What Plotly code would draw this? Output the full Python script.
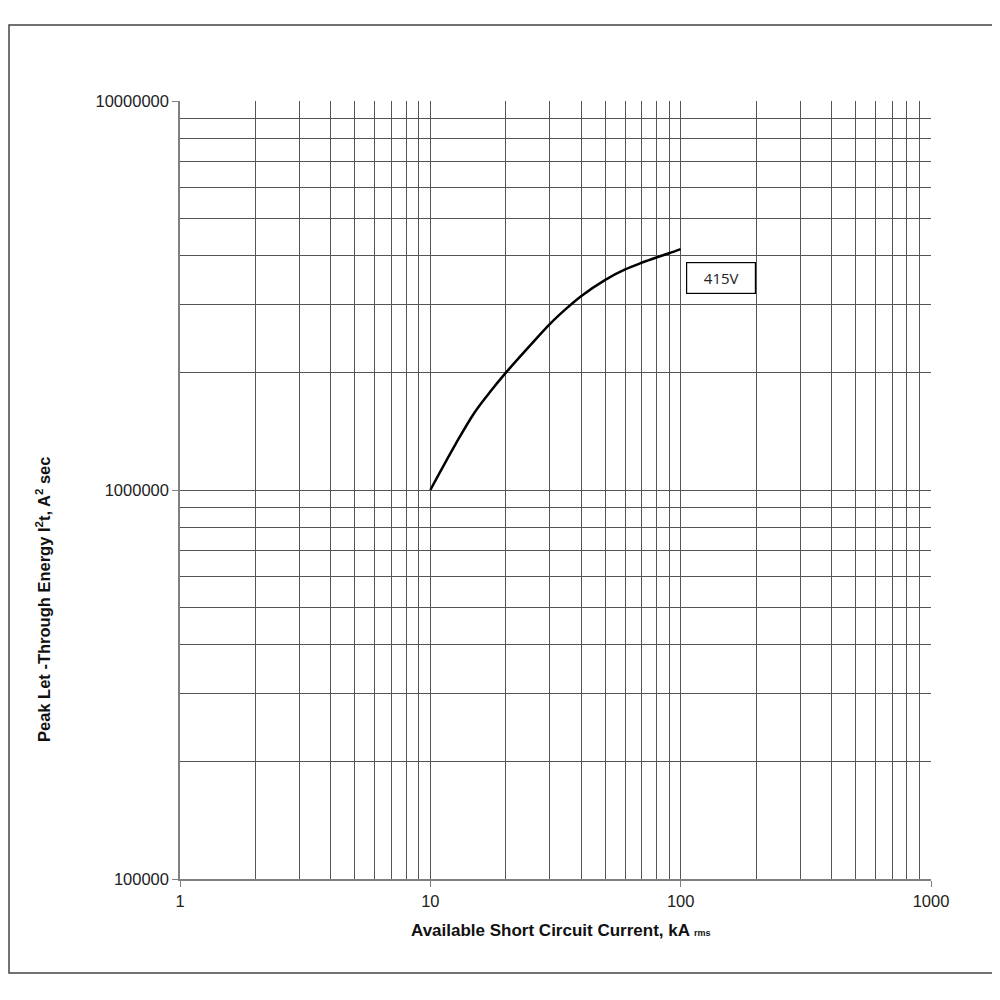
import plotly.graph_objects as go

# 415V let-through curve
current_ka = [10, 12.6, 15, 17.6, 20, 25, 30, 35, 40, 50, 60, 70, 80, 90, 100]
i2t = [1.0e6, 1.31e6, 1.58e6, 1.81e6, 2.0e6, 2.35e6, 2.67e6, 2.93e6, 3.15e6,
       3.47e6, 3.69e6, 3.84e6, 3.96e6, 4.06e6, 4.16e6]

x_major = [1, 10, 100, 1000]
y_major = [100000, 1000000, 10000000]
x_minor = [m * d for d in [1, 10, 100] for m in range(2, 10)]
y_minor = [m * d for d in [100000, 1000000] for m in range(2, 10)]

curve_label = "415V"
x_title = "Available Short Circuit Current, kA <span style='font-size:9px'>rms</span>"
y_title = "Peak Let -Through Energy I<sup>2</sup>t, A<sup>2</sup> sec"

fig = go.Figure()
fig.add_trace(go.Scatter(x=current_ka, y=i2t, mode="lines",
                         line=dict(color="black", width=2.5, shape="spline", smoothing=1.0),
                         showlegend=False, hoverinfo="skip"))

tick_font = dict(family="Liberation Sans, Arial", size=16.5, color="#222")

fig.update_xaxes(type="log", range=[0, 3], tickvals=x_major,
                 ticktext=[str(v) for v in x_major],
                 ticks="outside", ticklen=6, tickcolor="#808080",
                 showline=True, linecolor="#808080", linewidth=1.5,
                 showgrid=True, gridcolor="#555", gridwidth=1,
                 minor=dict(tickvals=x_minor, showgrid=True, gridcolor="#555", gridwidth=1, ticks=""),
                 tickfont=tick_font, zeroline=False)
fig.update_yaxes(type="log", range=[5, 7], tickvals=y_major,
                 ticktext=[str(v) for v in y_major],
                 ticks="outside", ticklen=6, tickcolor="#808080",
                 showline=True, linecolor="#808080", linewidth=1.5,
                 showgrid=True, gridcolor="#555", gridwidth=1,
                 minor=dict(tickvals=y_minor, showgrid=True, gridcolor="#555", gridwidth=1, ticks=""),
                 tickfont=tick_font, zeroline=False)

# curve label box
fig.add_annotation(x=2.162, y=6.545, xref="x", yref="y", text=curve_label,
                   showarrow=False, font=dict(family="Open Sans", size=15, color="#222"),
                   bordercolor="black", borderwidth=1.2, width=66, height=28,
                   bgcolor="white", align="center", xanchor="center", yanchor="middle")

fig.add_annotation(x=0.507, y=-0.0656, xref="paper", yref="paper", text=x_title,
                   showarrow=False, font=dict(family="Liberation Sans", size=17, color="#111", weight="bold"),
                   xanchor="center", yanchor="middle")
fig.add_annotation(x=-0.1824, y=0.3586, xref="paper", yref="paper", text=y_title,
                   textangle=-90, showarrow=False,
                   font=dict(family="Liberation Sans", size=16.5, color="#111", weight="bold"),
                   xanchor="center", yanchor="middle")

# outer frame
fig.add_shape(type="rect", xref="paper", yref="paper",
              x0=-0.2277, x1=1.0892, y0=-0.1208, y1=1.0977,
              line=dict(color="#444", width=1.5))

fig.update_layout(width=992, height=992,
                  margin=dict(l=172, r=69, t=93, b=121),
                  plot_bgcolor="white", paper_bgcolor="white")

fig.write_html("out.html")
